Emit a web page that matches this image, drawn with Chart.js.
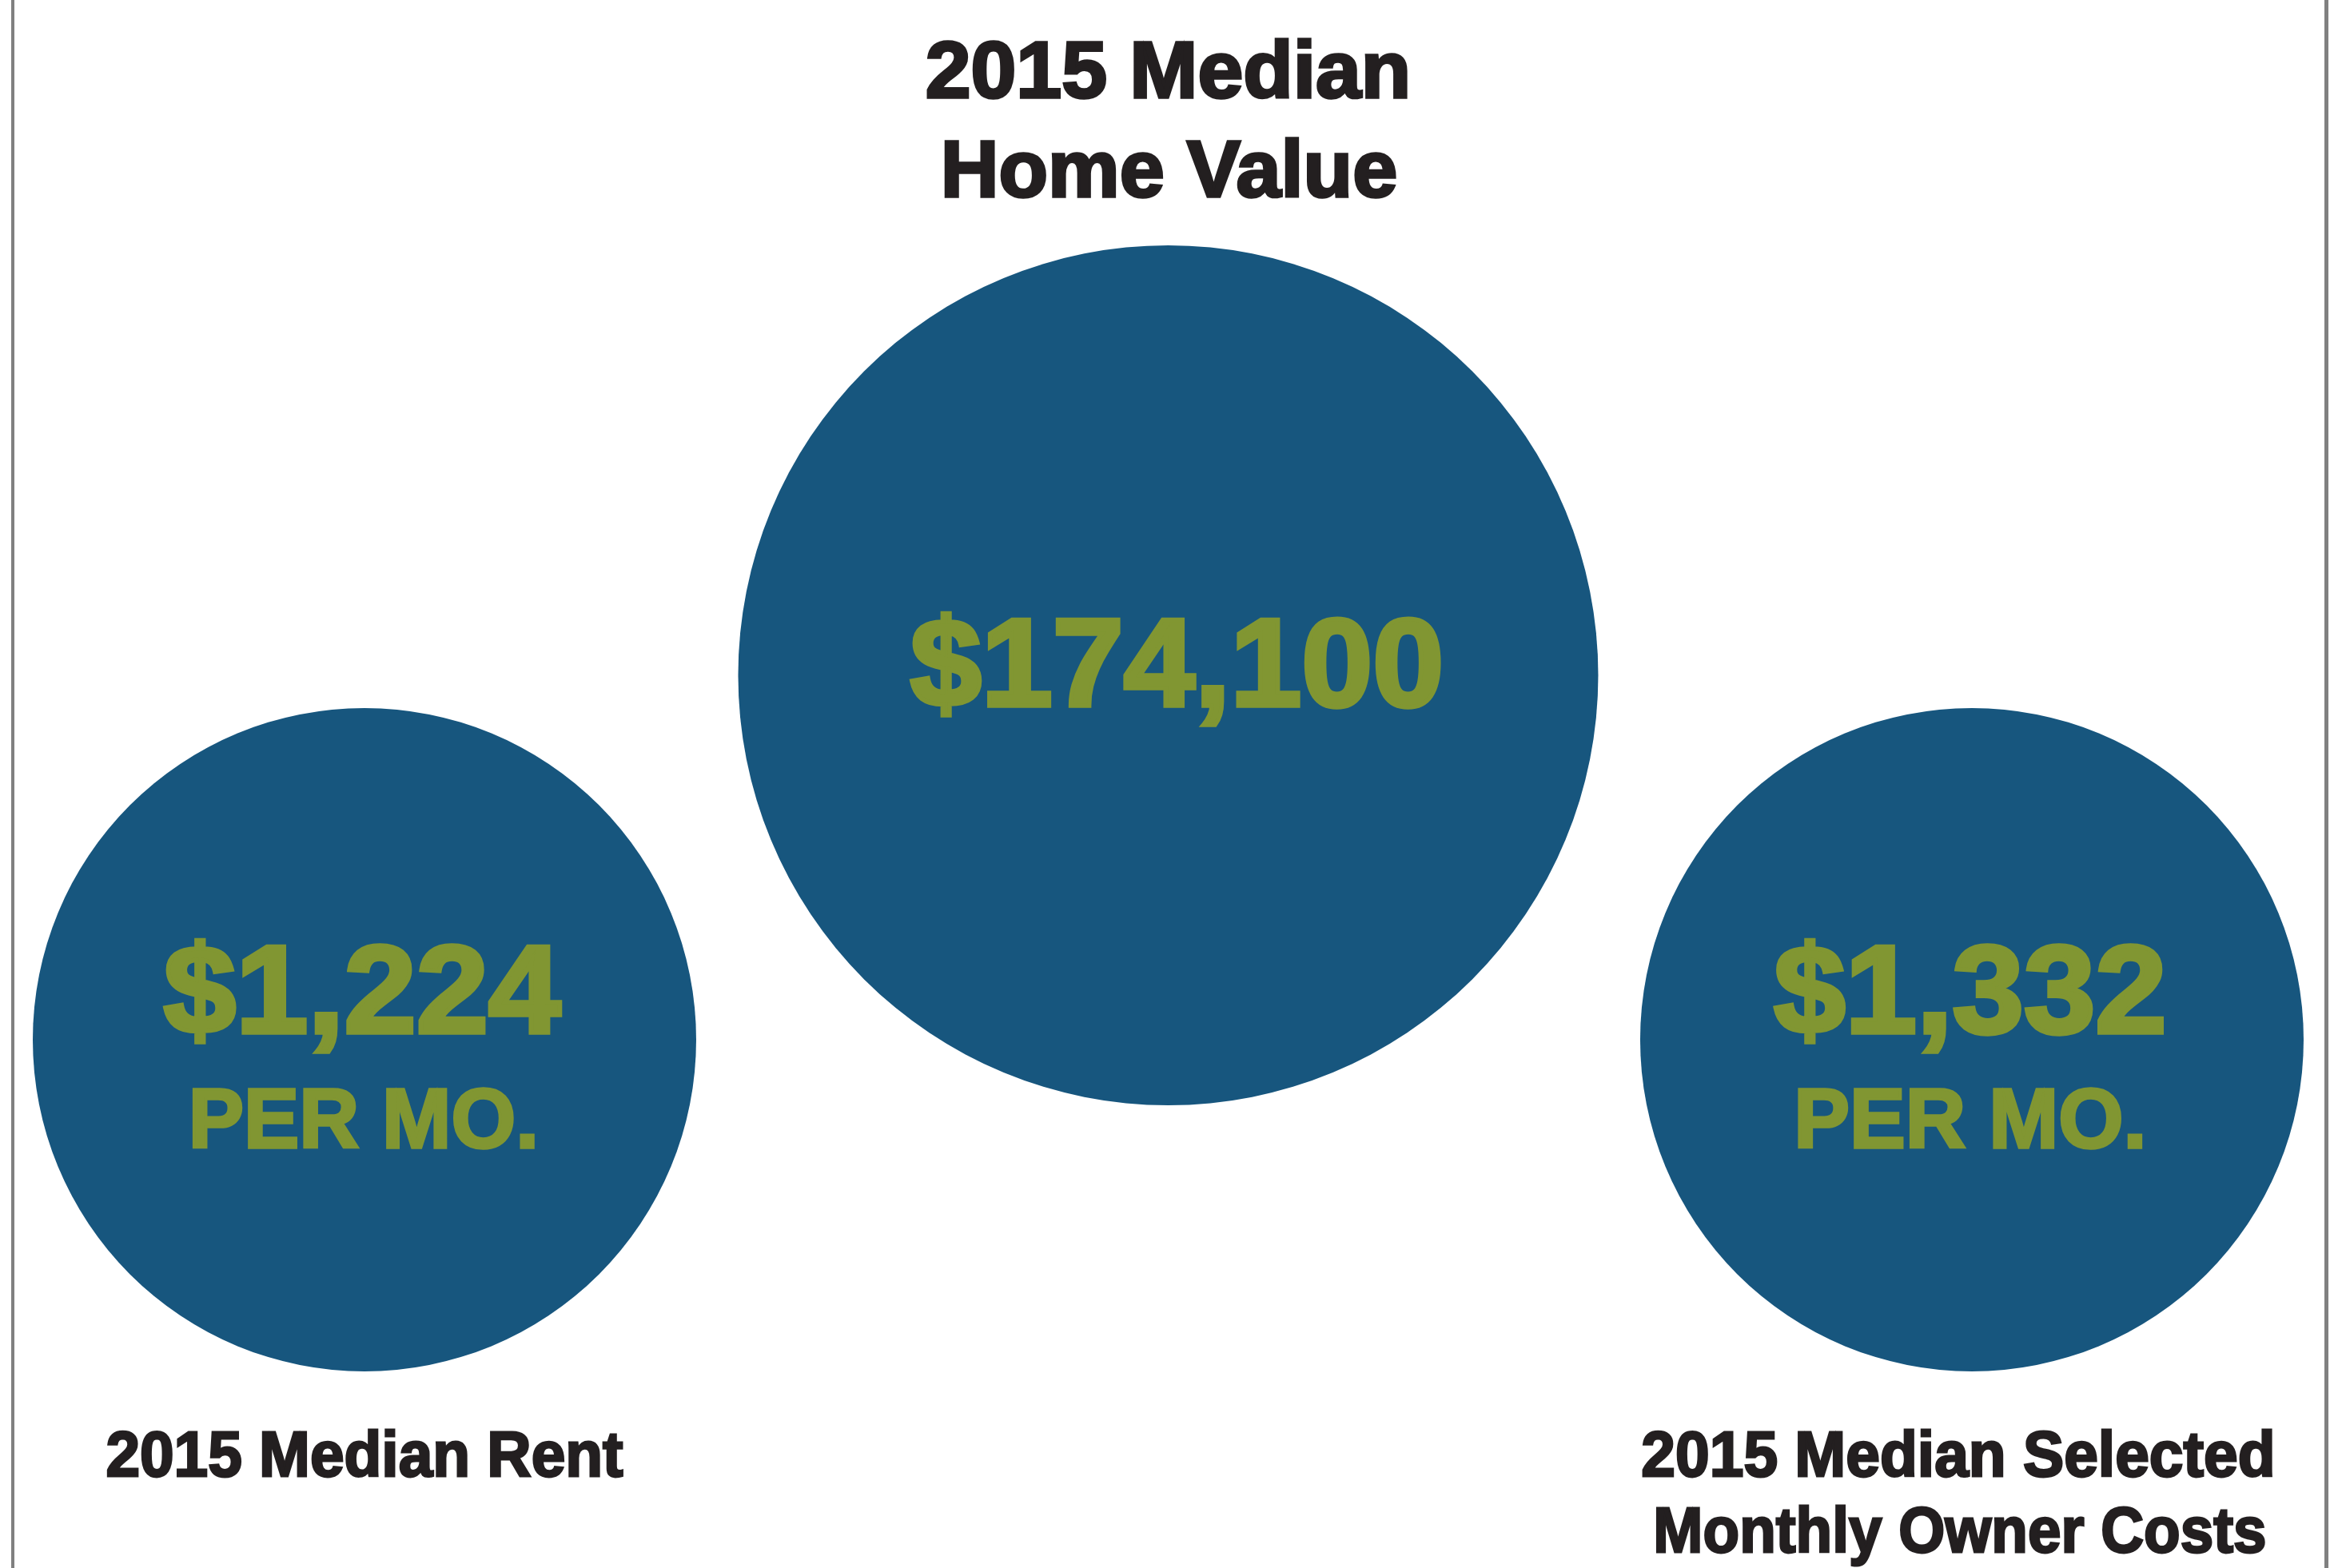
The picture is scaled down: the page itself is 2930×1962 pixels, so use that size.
<!DOCTYPE html>
<html>
<head>
<meta charset="utf-8">
<script src="https://cdn.jsdelivr.net/npm/chart.js@4/dist/chart.umd.min.js"></script>
<style>
  html, body { margin: 0; padding: 0; background: #ffffff; }
  #wrap { width: 2930px; height: 1962px; }
</style>
</head>
<body>
<div id="wrap"><canvas id="c" width="2930" height="1962"></canvas></div>
<script>
// ---- data ----
const categories = ['2015 Median Rent', '2015 Median Home Value', '2015 Median Selected Monthly Owner Costs'];
const values = [1224, 174100, 1332];
const valueLabels = ['$1,224', '$174,100', '$1,332'];
const unitLabels = ['PER MO.', '', 'PER MO.'];
const captionLines = [
  ['2015 Median Rent'],
  ['2015 Median', 'Home Value'],
  ['2015 Median Selected', 'Monthly Owner Costs']
];

// ---- layout / style ----
const LAYOUT = {
  radii: [415, 538, 415],
  rows: [0, 1, 0],
  blue: '#17567E',
  green: '#819632',
  ink: '#231F20',
  rule: '#808080',
  font: '"Liberation Sans", Arial, sans-serif',
  valueSize: 156, valueOffset: [-9, 38, -9], valueWidth: [502, 673, 497], valueDx: [-3, 11, -2],
  unitSize: 105, unitOffset: 135, unitWidth: [442, 0, 445], unitDx: [-1, 0, -2],
  capSize: [80, 100, 80],
  capBaselines: [[1847], [122, 246], [1847, 1942]],
  capWidth: [[650], [611, 575], [796, 770]],
  capDx: [[0], [0, 1], [-17, -15]]
};

const points = values.map((v, i) => ({ x: i, y: LAYOUT.rows[i], r: LAYOUT.radii[i], v: v }));

function fitText(ctx, text, cx, baseline, size, targetW, color) {
  ctx.save();
  ctx.font = 'bold ' + size + 'px ' + LAYOUT.font;
  const lw = Math.max(2, size * 0.035);
  const w = ctx.measureText(text).width;
  const sx = targetW > 0 ? (targetW - lw) / w : 1;
  ctx.translate(cx, baseline);
  ctx.scale(sx, 1);
  ctx.textAlign = 'center';
  ctx.textBaseline = 'alphabetic';
  ctx.fillStyle = color;
  ctx.strokeStyle = color;
  ctx.lineWidth = lw;
  ctx.lineJoin = 'miter';
  ctx.fillText(text, 0, 0);
  ctx.strokeText(text, 0, 0);
  ctx.restore();
}

const decor = {
  id: 'decor',
  beforeDraw(chart) {
    const ctx = chart.ctx;
    ctx.save();
    ctx.fillStyle = '#ffffff';
    ctx.fillRect(0, 0, chart.width, chart.height);
    ctx.fillStyle = LAYOUT.rule;
    ctx.fillRect(14, 0, 4, chart.height);
    ctx.fillRect(2908, 0, 5, chart.height);
    ctx.restore();
  },
  afterDatasetsDraw(chart) {
    const ctx = chart.ctx;
    const meta = chart.getDatasetMeta(0);
    meta.data.forEach((el, i) => {
      const cx = el.x, cy = el.y;
      fitText(ctx, valueLabels[i], cx + LAYOUT.valueDx[i], cy + LAYOUT.valueOffset[i],
              LAYOUT.valueSize, LAYOUT.valueWidth[i], LAYOUT.green);
      if (unitLabels[i]) {
        fitText(ctx, unitLabels[i], cx + LAYOUT.unitDx[i], cy + LAYOUT.unitOffset,
                LAYOUT.unitSize, LAYOUT.unitWidth[i], LAYOUT.green);
      }
      captionLines[i].forEach((line, j) => {
        fitText(ctx, line, cx + LAYOUT.capDx[i][j], LAYOUT.capBaselines[i][j],
                LAYOUT.capSize[i], LAYOUT.capWidth[i][j], LAYOUT.ink);
      });
    });
  }
};

new Chart(document.getElementById('c'), {
  type: 'bubble',
  data: {
    labels: categories,
    datasets: [{
      label: 'Housing costs',
      data: points,
      backgroundColor: LAYOUT.blue,
      borderWidth: 0,
      hoverBorderWidth: 0,
      clip: false
    }]
  },
  options: {
    responsive: false,
    animation: false,
    events: [],
    layout: { padding: 0, autoPadding: false },
    plugins: { legend: { display: false }, tooltip: { enabled: false }, title: { display: false } },
    scales: {
      x: { type: 'linear', display: false, min: -0.4535, max: 2.4605 },
      y: { type: 'linear', display: false, min: -1.4496, max: 2.853 }
    }
  },
  plugins: [decor]
});
</script>
</body>
</html>
